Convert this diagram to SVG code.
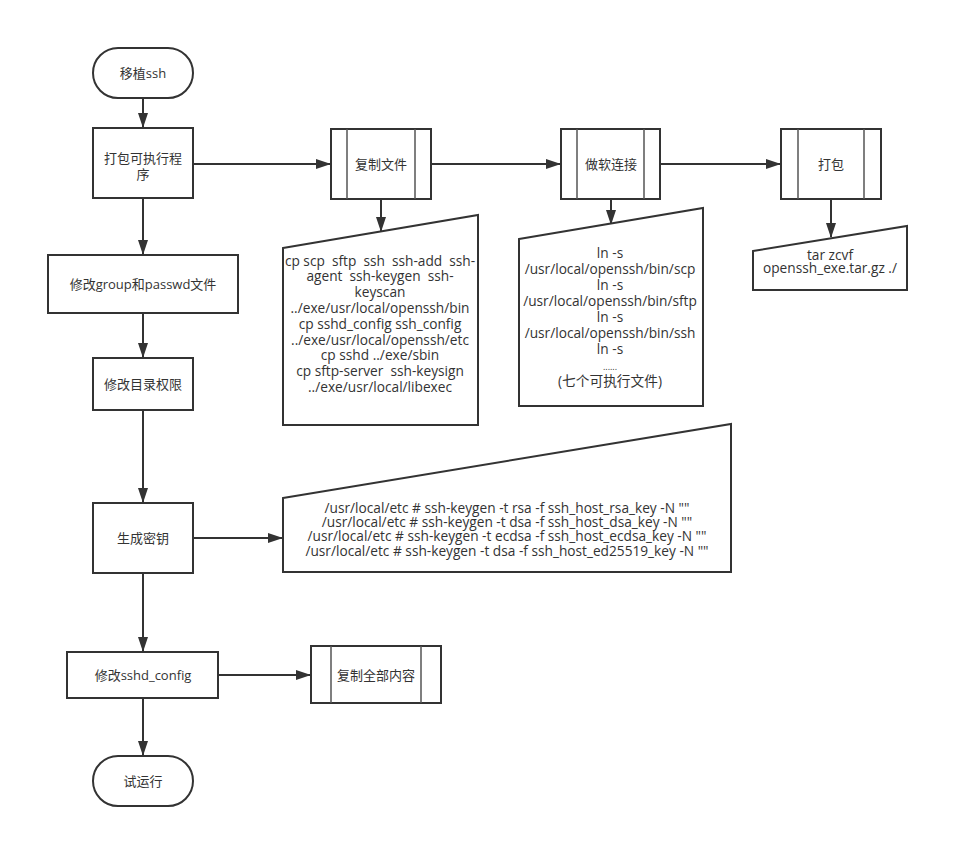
<svg xmlns="http://www.w3.org/2000/svg" width="969" height="868" viewBox="0 0 969 868">
<style>
.s{fill:#fff;stroke:#333;stroke-width:2}
.in{fill:none;stroke:#555;stroke-width:1.5}
.t{font-family:"Open Sans","Noto Sans CJK SC",sans-serif;font-size:13px;fill:#333;text-anchor:middle;white-space:pre}
.m{font-size:13.7px}
.c{stroke:#333;stroke-width:2;fill:none;marker-end:url(#a)}
</style>
<defs>
<marker id="a" markerWidth="15" markerHeight="10" refX="14" refY="5" orient="auto" markerUnits="userSpaceOnUse">
<path d="M0,0 L15,5 L0,10 z" fill="#333"/>
</marker>
</defs>
<rect width="969" height="868" fill="#fff"/>
<g id="connectors">
<path class="c" d="M143,98 V127"/>
<path class="c" d="M143,198 V254"/>
<path class="c" d="M143,313 V357"/>
<path class="c" d="M143,410 V502"/>
<path class="c" d="M143,573 V651"/>
<path class="c" d="M143,698 V755"/>
<path class="c" d="M193,164 H330"/>
<path class="c" d="M431,164 H560"/>
<path class="c" d="M660,164 H780"/>
<path class="c" d="M381,199 V231"/>
<path class="c" d="M611,199 V224"/>
<path class="c" d="M831,199 V237"/>
<path class="c" d="M193,538 H282"/>
<path class="c" d="M218,675 H310"/>
</g>
<g id="start">
<rect class="s" x="93" y="48" width="100" height="50" rx="25"/>
<text class="t" x="143" y="78">移植ssh</text>
</g>
<g id="pack-exe">
<rect class="s" x="93" y="128" width="100" height="70"/>
<text class="t" x="143" y="163">打包可执行程<tspan x="143" dy="16">序</tspan></text>
</g>
<g id="copy-files">
<rect class="s" x="331" y="129" width="100" height="70"/>
<path class="in" d="M347,129 V199 M415,129 V199"/>
<text class="t" x="381" y="169">复制文件</text>
</g>
<g id="softlink">
<rect class="s" x="561" y="129" width="99" height="70"/>
<path class="in" d="M577,129 V199 M644,129 V199"/>
<text class="t" x="611" y="169">做软连接</text>
</g>
<g id="pack">
<rect class="s" x="781" y="129" width="100" height="70"/>
<path class="in" d="M798,129 V199 M864,129 V199"/>
<text class="t" x="831" y="169">打包</text>
</g>
<g id="doc-copy">
<path class="s" d="M283,248 L478,215 L478,425 L283,425 Z"/>
<text class="t m" x="380" y="265.5">cp scp  sftp  ssh  ssh-add  ssh-<tspan x="380" dy="15.8">agent  ssh-keygen  ssh-</tspan><tspan x="380" dy="15.8">keyscan</tspan><tspan x="380" dy="15.8">../exe/usr/local/openssh/bin</tspan><tspan x="380" dy="15.8">cp sshd_config ssh_config</tspan><tspan x="380" dy="15.8">../exe/usr/local/openssh/etc</tspan><tspan x="380" dy="15.8">cp sshd ../exe/sbin</tspan><tspan x="380" dy="15.8">cp sftp-server  ssh-keysign</tspan><tspan x="380" dy="15.8">../exe/usr/local/libexec</tspan></text>
</g>
<g id="doc-link">
<path class="s" d="M519,239 L703,208 L703,406 L519,406 Z"/>
<text class="t m" x="610" y="258">ln -s<tspan x="610" dy="16">/usr/local/openssh/bin/scp</tspan><tspan x="610" dy="16">ln -s</tspan><tspan x="610" dy="16">/usr/local/openssh/bin/sftp</tspan><tspan x="610" dy="16">ln -s</tspan><tspan x="610" dy="16">/usr/local/openssh/bin/ssh</tspan><tspan x="610" dy="16">ln -s</tspan><tspan x="610" dy="16" style="font-size:9px">......</tspan><tspan x="610" dy="16">(七个可执行文件)</tspan></text>
</g>
<g id="doc-tar">
<path class="s" d="M753,251 L907,226 L907,290 L753,290 Z"/>
<text class="t m" x="830" y="259.5">tar zcvf<tspan x="830" dy="13.5">openssh_exe.tar.gz ./</tspan></text>
</g>
<g id="edit-group">
<rect class="s" x="48" y="255" width="190" height="58"/>
<text class="t" x="143" y="289">修改group和passwd文件</text>
</g>
<g id="edit-perm">
<rect class="s" x="93" y="358" width="100" height="52"/>
<text class="t" x="143" y="389">修改目录权限</text>
</g>
<g id="genkey">
<rect class="s" x="93" y="503" width="100" height="70"/>
<text class="t" x="143" y="543">生成密钥</text>
</g>
<g id="doc-keygen">
<path class="s" d="M283,498 L731,424 L731,572 L283,572 Z"/>
<text class="t m" x="507" y="512.5">/usr/local/etc # ssh-keygen -t rsa -f ssh_host_rsa_key -N ""<tspan x="507" dy="14.4">/usr/local/etc # ssh-keygen -t dsa -f ssh_host_dsa_key -N ""</tspan><tspan x="507" dy="14.4">/usr/local/etc # ssh-keygen -t ecdsa -f ssh_host_ecdsa_key -N ""</tspan><tspan x="507" dy="14.4">/usr/local/etc # ssh-keygen -t dsa -f ssh_host_ed25519_key -N ""</tspan></text>
</g>
<g id="edit-sshd">
<rect class="s" x="67" y="652" width="151" height="46"/>
<text class="t" x="143" y="680">修改sshd_config</text>
</g>
<g id="copy-all">
<rect class="s" x="311" y="646" width="130" height="57"/>
<path class="in" d="M331,646 V703 M421,646 V703"/>
<text class="t" x="376" y="680">复制全部内容</text>
</g>
<g id="end">
<rect class="s" x="93" y="756" width="100" height="50" rx="25"/>
<text class="t" x="143" y="786">试运行</text>
</g>
</svg>
